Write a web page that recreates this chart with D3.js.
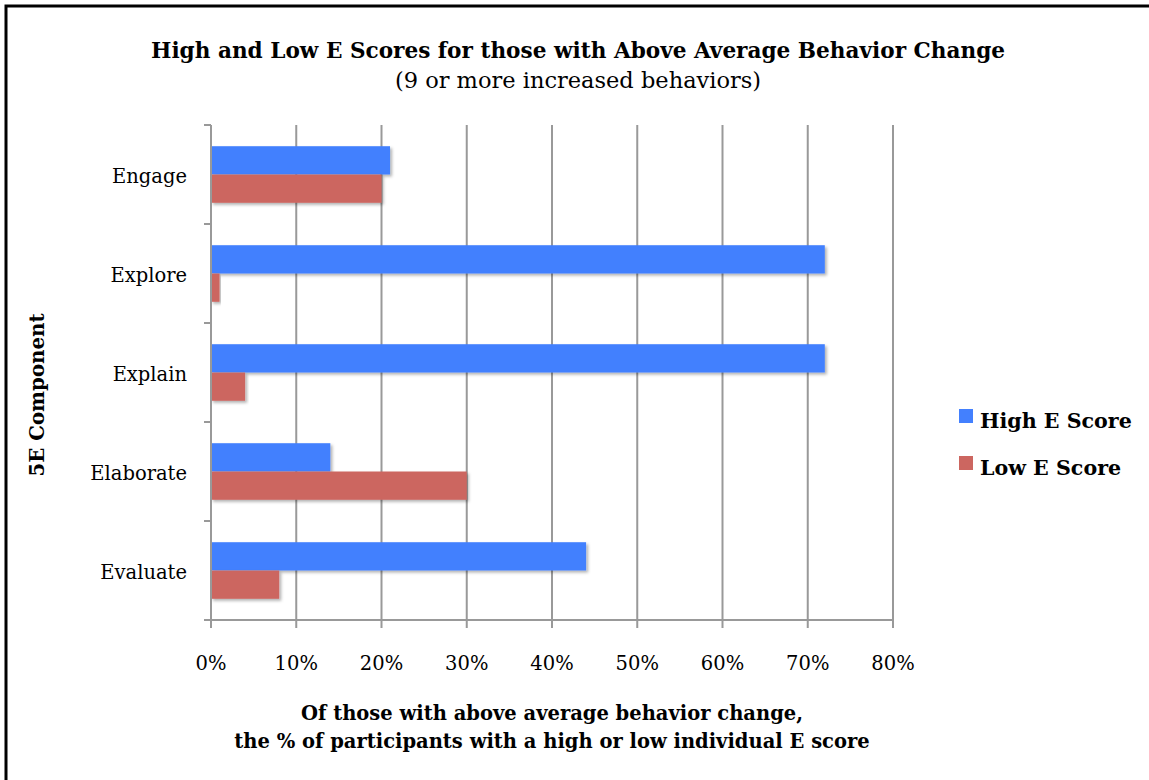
<!DOCTYPE html>
<html>
<head>
<meta charset="utf-8">
<script src="https://cdn.jsdelivr.net/npm/d3@7"></script>
<style>
  html, body { margin: 0; padding: 0; background: #fff; }
  svg { display: block; }
  text { font-family: "DejaVu Serif", "Liberation Serif", serif; fill: #000; }
</style>
</head>
<body>
<svg id="chart" width="1149" height="780"></svg>
<script>
const categories = ["Engage", "Explore", "Explain", "Elaborate", "Evaluate"];
const seriesNames = ["High E Score", "Low E Score"];
const highValues = [0.21, 0.72, 0.72, 0.14, 0.44];
const lowValues = [0.20, 0.01, 0.04, 0.30, 0.08];
const xTicks = [0, 0.1, 0.2, 0.3, 0.4, 0.5, 0.6, 0.7, 0.8];
const colors = ["#4380FE", "#CC6660"];
const titleText = "High and Low E Scores for those with Above Average Behavior Change";
const subtitleText = "(9 or more increased behaviors)";
const xTitleLines = ["Of those with above average behavior change,", "the % of participants with a high or low individual E score"];
const yTitleText = "5E Component";

const svg = d3.select("#chart");
const W = 1149, H = 780;
const m = { left: 211, right: 893, top: 125, bottom: 620 };

// frame (left and top edges)
svg.append("path")
  .attr("d", `M6,${H} L6,6 L${W},6`)
  .attr("fill", "none").attr("stroke", "#000").attr("stroke-width", 3);

const defs = svg.append("defs");
const f = defs.append("filter").attr("id", "shadow").attr("x", "-5%").attr("y", "-20%").attr("width", "115%").attr("height", "160%");
f.append("feDropShadow").attr("dx", 2).attr("dy", 2).attr("stdDeviation", 1.5).attr("flood-color", "#000").attr("flood-opacity", 0.3);

const x = d3.scaleLinear().domain([0, 0.8]).range([m.left, m.right]);
const y0 = d3.scaleBand().domain(categories).range([m.top, m.bottom]).padding(0);
const y1 = d3.scaleBand().domain(seriesNames).range([0, y0.bandwidth()]).paddingInner(0).paddingOuter(0.75);

// gridlines
svg.append("g").selectAll("line").data(xTicks).join("line")
  .attr("x1", d => x(d)).attr("x2", d => x(d))
  .attr("y1", m.top).attr("y2", m.bottom + 8)
  .attr("stroke", "#999").attr("stroke-width", 2);

// x axis line
svg.append("line").attr("x1", m.left).attr("x2", m.right).attr("y1", m.bottom).attr("y2", m.bottom)
  .attr("stroke", "#999").attr("stroke-width", 2);

// y axis ticks at band boundaries
const bounds = categories.map(c => y0(c)).concat([m.bottom]);
svg.append("g").selectAll("line").data(bounds).join("line")
  .attr("x1", m.left - 7).attr("x2", m.left).attr("y1", d => d).attr("y2", d => d)
  .attr("stroke", "#999").attr("stroke-width", 2);

// bars
const data = categories.map((c, i) => ({ cat: c, vals: [highValues[i], lowValues[i]] }));
const groups = svg.append("g").selectAll("g").data(data).join("g")
  .attr("transform", d => `translate(0,${y0(d.cat)})`);
groups.selectAll("rect").data(d => d.vals.map((v, j) => ({ v, s: seriesNames[j], j }))).join("rect")
  .attr("x", x(0)).attr("y", d => y1(d.s)).attr("height", y1.bandwidth())
  .attr("width", d => x(d.v) - x(0)).attr("fill", d => colors[d.j]).attr("filter", "url(#shadow)");

// y axis line (on top)
svg.append("line").attr("x1", m.left).attr("x2", m.left).attr("y1", m.top).attr("y2", m.bottom + 8)
  .attr("stroke", "#999").attr("stroke-width", 2);

// y labels
svg.append("g").selectAll("text").data(categories).join("text")
  .attr("x", 187).attr("y", d => y0(d) + y0.bandwidth() / 2)
  .attr("dy", "0.45em").attr("text-anchor", "end").attr("font-size", 19.5).text(d => d);

// x labels
svg.append("g").selectAll("text").data(xTicks).join("text")
  .attr("x", d => x(d)).attr("y", 670).attr("text-anchor", "middle").attr("font-size", 19.5)
  .text(d => d3.format(".0%")(d));

// titles
svg.append("text").attr("x", 578).attr("y", 58).attr("text-anchor", "middle")
  .attr("font-size", 21.6).attr("font-weight", "bold").text(titleText);
svg.append("text").attr("x", 578).attr("y", 88).attr("text-anchor", "middle")
  .attr("font-size", 22.5).text(subtitleText);

// x title
svg.append("text").attr("x", 552).attr("y", 720).attr("text-anchor", "middle")
  .attr("font-size", 19.5).attr("font-weight", "bold").text(xTitleLines[0]);
svg.append("text").attr("x", 552).attr("y", 748).attr("text-anchor", "middle")
  .attr("font-size", 19.5).attr("font-weight", "bold").text(xTitleLines[1]);

// y title
svg.append("text").attr("transform", "translate(44,395) rotate(-90)").attr("text-anchor", "middle")
  .attr("font-size", 19.8).attr("font-weight", "bold").text(yTitleText);

// legend
const leg = svg.append("g").selectAll("g").data(seriesNames).join("g")
  .attr("transform", (d, i) => `translate(959,${409 + i * 47})`);
leg.append("rect").attr("width", 14).attr("height", 14).attr("fill", (d, i) => colors[i]);
leg.append("text").attr("x", 21).attr("y", 19).attr("font-size", 20.6).attr("font-weight", "bold").text(d => d);
</script>
</body>
</html>
